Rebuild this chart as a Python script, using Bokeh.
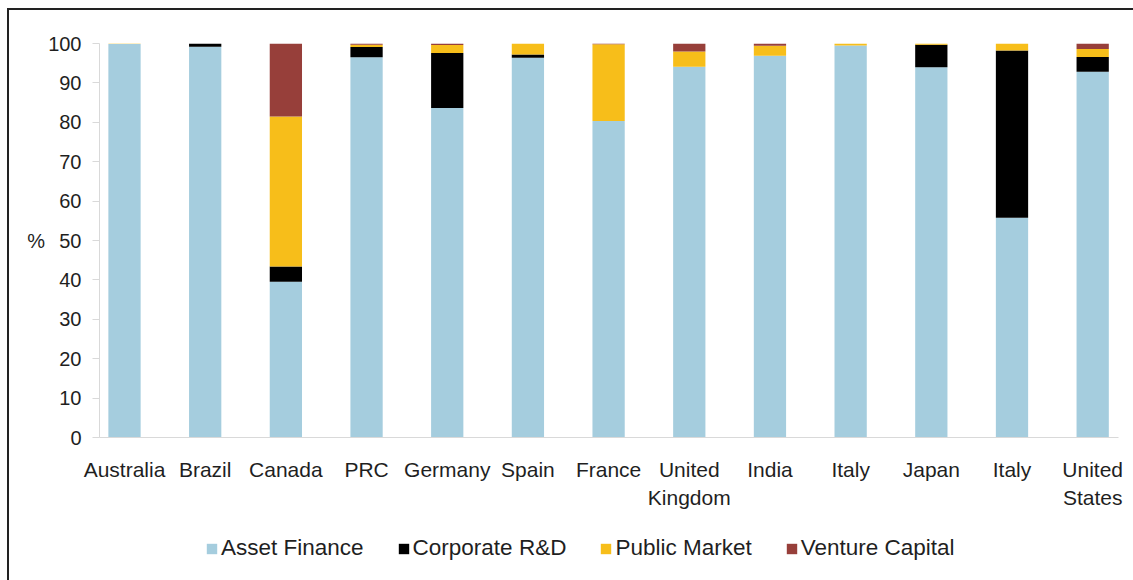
from bokeh.plotting import figure
from bokeh.layouts import column
from bokeh.models import ColumnDataSource, Range1d, FixedTicker, Legend, LegendItem
from bokeh.embed import file_html
from bokeh.resources import INLINE

categories = ["Australia", "Brazil", "Canada", "PRC", "Germany", "Spain", "France",
              "United\nKingdom", "India", "Italy", "Japan", "Italy", "United\nStates"]
asset_finance = [99.9, 99.2, 39.5, 96.5, 83.6, 96.4, 80.3, 94.1, 96.9, 99.5, 94.0, 55.8, 92.8]
corporate_rd = [0.0, 0.8, 3.9, 2.6, 14.0, 0.8, 0.0, 0.0, 0.0, 0.0, 5.7, 42.4, 3.8]
public_market = [0.1, 0.0, 38.1, 0.6, 2.0, 2.8, 19.5, 3.9, 2.5, 0.5, 0.3, 1.8, 2.0]
venture_capital = [0.0, 0.0, 18.5, 0.3, 0.4, 0.0, 0.2, 2.0, 0.6, 0.0, 0.0, 0.0, 1.4]
series_names = ["Asset Finance", "Corporate R&D", "Public Market", "Venture Capital"]
y_ticks = [0, 10, 20, 30, 40, 50, 60, 70, 80, 90, 100]

colors = ["#A5CDDE", "#000000", "#F7BE1A", "#973F3A"]
FONT = "Liberation Sans"
TXT = "#1f1f1f"

x = list(range(len(categories)))
source = ColumnDataSource(data=dict(
    x=x,
    asset_finance=asset_finance,
    corporate_rd=corporate_rd,
    public_market=public_market,
    venture_capital=venture_capital,
))
stack_keys = ["asset_finance", "corporate_rd", "public_market", "venture_capital"]

p = figure(width=1124, height=505, output_backend="svg", toolbar_location=None,
           x_range=Range1d(-0.31, 12.32), y_range=Range1d(0, 100),
           min_border_left=90, min_border_right=15, min_border_top=33, min_border_bottom=78)
p.outline_line_color = None
p.xgrid.visible = False
p.ygrid.visible = False

p.vbar_stack(stack_keys, x="x", width=0.4, source=source,
             fill_color=colors, line_color=None)

# y axis
yax = p.yaxis[0]
yax.ticker = FixedTicker(ticks=y_ticks)
yax.axis_line_color = "#d9d9d9"
yax.major_tick_line_color = "#d9d9d9"
yax.major_tick_out = 7
yax.major_tick_in = 0
yax.minor_tick_line_color = None
yax.major_label_text_font = FONT
yax.major_label_text_font_size = "20px"
yax.major_label_text_color = TXT
yax.major_label_standoff = 11
yax.axis_label = "%"
yax.axis_label_orientation = "horizontal"
yax.axis_label_text_font = FONT
yax.axis_label_text_font_size = "20px"
yax.axis_label_text_font_style = "normal"
yax.axis_label_text_color = TXT
yax.axis_label_standoff = 0

# x axis
xax = p.xaxis[0]
xax.ticker = FixedTicker(ticks=x)
xax.major_label_overrides = {i: c for i, c in enumerate(categories)}
xax.axis_line_color = "#d9d9d9"
xax.major_tick_line_color = None
xax.minor_tick_line_color = None
xax.major_label_text_font = FONT
xax.major_label_text_font_size = "21px"
xax.major_label_text_color = TXT
xax.major_label_text_line_height = 1.25
xax.major_label_standoff = 14

# legend strip (same stacked series, drawn outside its visible range; only the legend shows)
q = figure(width=1124, height=65, output_backend="svg", toolbar_location=None,
           x_range=Range1d(-0.31, 12.32), y_range=Range1d(1000, 1001),
           x_axis_type=None, y_axis_type=None, min_border=0)
q.outline_line_color = None
q.xgrid.visible = False
q.ygrid.visible = False
swatches = q.vbar_stack(stack_keys, x="x", width=0.4, source=source,
                        fill_color=colors, line_color=None)
legend = Legend(items=[LegendItem(label=n, renderers=[r]) for n, r in zip(series_names, swatches)],
                location=(106, 19), orientation="horizontal",
                glyph_width=13, glyph_height=13, label_standoff=3, spacing=33,
                padding=0, margin=0, border_line_color=None, background_fill_alpha=0,
                label_text_font=FONT, label_text_font_size="22.5px", label_text_color=TXT)
q.add_layout(legend, "center")

layout = column(p, q, spacing=0,
                styles={"margin-left": "7px", "margin-top": "8px",
                        "border-left": "2px solid #222", "border-top": "2px solid #222"})

open("out.html", "w").write(file_html(layout, INLINE))
